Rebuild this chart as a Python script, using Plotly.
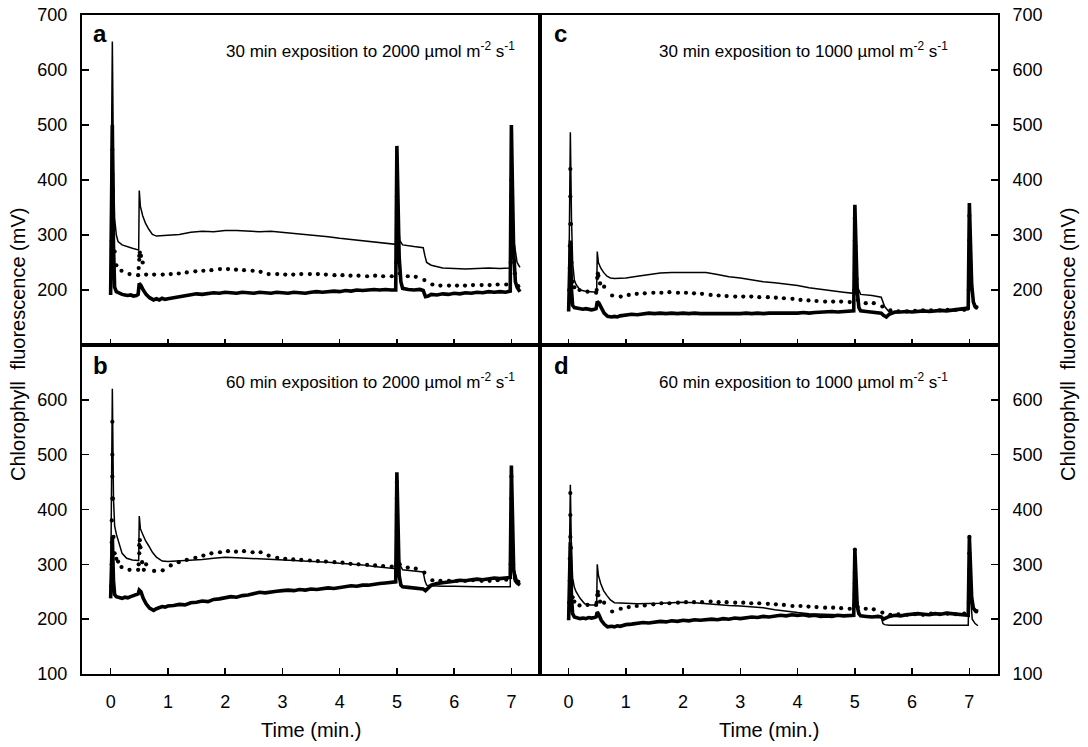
import plotly.graph_objects as go

W, H = 1088, 747

# ---------------- data ----------------
x_ticks = [0, 1, 2, 3, 4, 5, 6, 7]
y_ticks_top = [200, 300, 400, 500, 600, 700]
y_ticks_bottom = [100, 200, 300, 400, 500, 600]

time_thin = [0.00, 0.02, 0.03, 0.05, 0.07, 0.10, 0.13, 0.20, 0.28, 0.38, 0.48, 0.49, 0.50, 0.52, 0.56,
             0.61, 0.67, 0.73, 0.80, 0.90, 1.00, 1.20, 1.40, 1.60, 1.80, 2.00, 2.20, 2.40, 2.60, 2.80,
             3.00, 3.20, 3.40, 3.60, 3.80, 4.00, 4.20, 4.40, 4.60, 4.80, 4.98, 5.00, 5.02, 5.05, 5.10,
             5.30, 5.46, 5.49, 5.52, 5.60, 5.70, 5.80, 6.00, 6.20, 6.40, 6.60, 6.80, 6.98, 7.00, 7.02,
             7.05, 7.10, 7.15]

time_thick = [0.00, 0.01, 0.02, 0.03, 0.05, 0.07, 0.10,
              0.15, 0.20, 0.25, 0.30, 0.35, 0.40, 0.45,
              0.48, 0.50, 0.53, 0.57, 0.62, 0.68, 0.75,
              0.80, 0.85, 0.90, 0.95, 1.00,
              1.10, 1.20, 1.30, 1.40, 1.50, 1.60, 1.70, 1.80, 1.90, 2.00,
              2.10, 2.20, 2.30, 2.40, 2.50, 2.60, 2.70, 2.80, 2.90, 3.00,
              3.10, 3.20, 3.30, 3.40, 3.50, 3.60, 3.70, 3.80, 3.90, 4.00,
              4.10, 4.20, 4.30, 4.40, 4.50, 4.60, 4.70, 4.80, 4.90,
              4.98, 5.00, 5.02, 5.04, 5.07, 5.10,
              5.20, 5.30, 5.40, 5.46, 5.50, 5.55, 5.60,
              5.70, 5.80, 5.90, 6.00,
              6.10, 6.20, 6.30, 6.40, 6.50, 6.60, 6.70, 6.80, 6.90,
              6.98, 7.00, 7.02, 7.04, 7.07, 7.10, 7.15]

time_dot = [0.19, 0.33, 0.48, 0.62, 0.76, 0.91,
            1.05, 1.19, 1.33, 1.48, 1.62, 1.76, 1.91,
            2.05, 2.19, 2.33, 2.48, 2.62, 2.76, 2.91,
            3.05, 3.19, 3.33, 3.48, 3.62, 3.76, 3.91,
            4.05, 4.19, 4.33, 4.48, 4.62, 4.76, 4.91,
            5.05, 5.19, 5.33, 5.48, 5.62, 5.76, 5.91,
            6.05, 6.19, 6.33, 6.48, 6.62, 6.76, 6.91,
            7.12]

# ---- panel a : 30 min, 2000 ----
thin_a = [270, 500, 652, 420, 330, 300, 288, 282, 279, 276, 273, 272, 381, 352, 335,
          321, 310, 301, 298, 299, 300, 301, 305, 307, 306, 308, 308, 307, 306, 307,
          305, 303, 302, 299, 297, 294, 292, 290, 288, 285, 283, 420, 330, 290, 282,
          279, 277, 262, 250, 245, 242, 240, 239, 238, 239, 240, 239, 240, 460, 350,
          285, 250, 241]
thick_a = [191, 260, 420, 500, 280, 205, 197,
           194, 192, 191, 190, 191, 189, 190,
           192, 212, 208, 200, 192, 186, 182,
           184, 182, 185, 183, 184,
           186, 188, 190, 192, 193, 192, 194, 195, 194, 196,
           195, 194, 196, 195, 194, 196, 195, 194, 196, 195,
           194, 196, 195, 194, 196, 197, 196, 197, 198, 197,
           199, 198, 200, 199, 200, 201, 200, 201, 200,
           200, 462, 360, 260, 215, 203,
           201, 200, 201, 199, 188, 189, 192,
           191, 193, 192, 194,
           193, 195, 194, 196, 195, 197, 196, 197, 196,
           198, 500, 380, 270, 215, 205, 197]
dot_a = [235, 229, 227, 228, 228, 228,
         229, 230, 232, 234, 235, 236, 238,
         238, 237, 236, 235, 233, 229, 229,
         228, 228, 229, 229, 229, 228, 227,
         227, 226, 226, 225, 226, 225, 225,
         230, 225, 224, 218, 210, 208, 208,
         208, 208, 209, 209, 209, 210, 210,
         207]
spike_t_a = [0.02, 0.02, 0.02, 0.03, 0.03, 0.03, 0.03, 0.04, 0.05, 0.07, 0.10,
             0.49, 0.50, 0.50, 0.51, 0.53, 0.56,
             4.99, 5.00, 5.00, 5.00, 5.00, 5.01, 5.03,
             6.99, 7.00, 7.00, 7.00, 7.00, 7.00, 7.01, 7.03, 7.06]
spike_v_a = [230, 260, 290, 330, 370, 410, 455, 380, 310, 270, 245,
             240, 255, 262, 268, 262, 250,
             250, 280, 310, 340, 370, 320, 260,
             250, 280, 310, 340, 370, 400, 340, 280, 230]

# ---- panel b : 60 min, 2000 ----
thin_b = [245, 450, 620, 420, 370, 355, 345, 320, 311, 308, 307, 307, 388, 365, 355,
          343, 333, 322, 313, 306, 305, 306, 307, 309, 311, 313, 312, 311, 310, 309,
          309, 308, 307, 305, 304, 302, 301, 299, 296, 294, 292, 440, 340, 300, 290,
          288, 286, 270, 262, 261, 260, 260, 260, 259, 259, 259, 259, 259, 450, 350,
          290, 272, 268]
thick_b = [238, 280, 330, 350, 270, 245, 241,
           239, 238, 240, 239, 241, 243, 244,
           246, 253, 250, 238, 228, 220, 216,
           219, 221, 223, 222, 224,
           225, 227, 226, 230, 231, 233, 232, 236, 237, 239,
           241, 240, 243, 244, 246, 249, 248, 250, 251, 252,
           253, 252, 254, 253, 255, 254, 256, 257, 256, 258,
           259, 261, 260, 262, 262, 264, 265, 266, 267,
           268, 468, 360, 280, 262, 259,
           258, 257, 256, 255, 252, 258, 262,
           265, 266, 268, 269,
           271, 270, 272, 273, 272, 274, 275, 274, 276,
           276, 480, 370, 290, 270, 266, 262]
dot_b = [295, 290, 290, 300, 288, 289,
         298, 304, 308, 312, 316, 320, 322,
         324, 323, 324, 322, 322, 316, 312,
         310, 309, 308, 307, 306, 305, 304,
         303, 301, 300, 299, 298, 297, 296,
         300, 294, 292, 285, 271, 270, 270,
         270, 270, 271, 270, 270, 271, 272,
         268]
spike_t_b = [0.01, 0.02, 0.02, 0.02, 0.03, 0.03, 0.03, 0.03, 0.04, 0.05, 0.07, 0.10, 0.13,
             0.49, 0.50, 0.50, 0.51, 0.52, 0.55, 0.58,
             4.99, 5.00, 5.00, 5.00, 5.00, 5.00, 5.01, 5.03,
             6.99, 7.00, 7.00, 7.00, 7.00, 7.00, 7.01, 7.03, 7.06]
spike_v_b = [260, 300, 340, 380, 420, 460, 500, 560, 420, 350, 320, 310, 305,
             300, 320, 335, 344, 331, 304, 290,
             300, 330, 360, 390, 420, 450, 360, 300,
             300, 330, 360, 390, 420, 460, 370, 300, 275]

# ---- panel c : 30 min, 1000 ----
thin_c = [165, 350, 487, 330, 250, 218, 210, 200, 198, 197, 196, 196, 270, 250, 240,
          232, 225, 222, 221, 221, 222, 225, 228, 231, 232, 232, 233, 232, 228, 224,
          222, 218, 215, 213, 211, 208, 204, 201, 199, 196, 194, 320, 250, 205, 192,
          190, 187, 178, 170, 160, 158, 160, 161, 161, 162, 162, 163, 164, 330, 250,
          190, 172, 168]
thick_c = [161, 220, 270, 290, 200, 172, 168,
           167, 166, 165, 166, 165, 164, 165,
           166, 179, 176, 168, 158, 152, 151,
           152, 151, 153, 154, 155,
           156, 155, 157, 158, 157, 158, 157, 158, 157, 158,
           157, 158, 157, 157, 156, 157, 157, 156, 157, 157,
           158, 157, 158, 157, 158, 158, 158, 157, 158, 158,
           159, 158, 159, 160, 160, 161, 160, 161, 161,
           162, 355, 270, 200, 168, 162,
           161, 160, 159, 158, 154, 151, 156,
           160, 160, 161, 160,
           161, 162, 161, 162, 163, 162, 163, 164, 165,
           167, 358, 280, 210, 178, 170, 168]
dot_c = [200, 197, 195, 206, 190, 188,
         191, 193, 194, 195, 195, 196, 195,
         195, 194, 193, 191, 190, 189, 188,
         188, 188, 187, 187, 186, 185, 184,
         182, 181, 180, 179, 179, 179, 178,
         182, 176, 176, 170, 163, 161, 161,
         162, 163, 163, 163, 164, 164, 164,
         168]
spike_t_c = [0.01, 0.02, 0.02, 0.03, 0.03, 0.03, 0.04, 0.05, 0.07, 0.10,
             0.49, 0.50, 0.51, 0.52, 0.55,
             4.99, 5.00, 5.00, 5.00, 5.00, 5.01, 5.03,
             6.99, 7.00, 7.00, 7.00, 7.00, 7.01, 7.03]
spike_v_c = [200, 240, 280, 320, 370, 420, 320, 250, 215, 205,
             200, 222, 230, 226, 212,
             200, 230, 260, 290, 330, 280, 220,
             200, 230, 260, 290, 335, 280, 220]

# ---- panel d : 60 min, 1000 ----
thin_d = [200, 330, 445, 320, 275, 258, 250, 238, 228, 226, 226, 226, 300, 280, 265,
          252, 243, 235, 230, 229, 229, 228, 228, 229, 230, 231, 230, 228, 226, 225,
          224, 223, 221, 217, 214, 212, 210, 209, 208, 207, 207, 290, 240, 212, 206,
          205, 204, 192, 190, 189, 189, 189, 189, 188, 188, 188, 189, 189, 300, 240,
          200, 192, 188]
thick_d = [198, 260, 320, 340, 240, 210, 204,
           202, 201, 202, 201, 203, 202, 203,
           204, 213, 208, 198, 191, 186, 187,
           186, 188, 187, 189, 190,
           191, 192, 194, 193, 195, 196, 195, 197, 196, 198,
           197, 199, 198, 199, 200, 199, 201, 200, 202, 201,
           203, 204, 203, 205, 204, 206, 207, 206, 208, 207,
           208, 206, 207, 205, 206, 205, 207, 206, 207,
           207, 327, 270, 225, 210, 206,
           205, 204, 205, 204, 200, 202, 205,
           207, 206, 208, 209,
           210, 209, 208, 210, 209, 211, 210, 208, 207,
           207, 350, 290, 240, 220, 216, 214]
dot_d = [225, 226, 226, 230, 214, 219,
         222, 224, 225, 227, 229, 229, 230,
         231, 231, 231, 232, 231, 231, 230,
         230, 229, 229, 228, 227, 226, 224,
         224, 223, 222, 221, 221, 220, 219,
         222, 219, 218, 212, 208, 209, 208,
         209, 208, 210, 209, 210, 209, 210,
         214]
spike_t_d = [0.01, 0.02, 0.02, 0.03, 0.03, 0.03, 0.04, 0.05, 0.07, 0.10,
             0.49, 0.50, 0.51, 0.52, 0.55,
             4.99, 5.00, 5.00, 5.00, 5.00, 5.01, 5.03,
             6.99, 7.00, 7.00, 7.00, 7.00, 7.01, 7.03]
spike_v_d = [230, 270, 310, 350, 390, 430, 330, 270, 240, 232,
             230, 244, 250, 244, 232,
             225, 245, 265, 285, 327, 270, 230,
             230, 260, 290, 320, 350, 290, 240]

panel_letters = ["a", "b", "c", "d"]
panel_texts = ["30 min exposition to 2000 µmol m<sup>-2</sup> s<sup>-1</sup>",
               "60 min exposition to 2000 µmol m<sup>-2</sup> s<sup>-1</sup>",
               "30 min exposition to 1000 µmol m<sup>-2</sup> s<sup>-1</sup>",
               "60 min exposition to 1000 µmol m<sup>-2</sup> s<sup>-1</sup>"]
x_title = "Time (min.)"
y_title = "Chlorophyll\u00a0 fluorescence (mV)"

# ---------------- figure ----------------
FONT = "Liberation Sans, Arial, Helvetica, sans-serif"


def px(x):
    # window pixel -> paper fraction
    return x / W


def py(y):
    return 1 - y / H


XL = [px(82), px(540)]
XR = [px(540), px(998)]
YT = [py(345), py(15)]
YB = [py(674), py(345)]

panels = [
    ("a", "x", "y", thin_a, thick_a, dot_a, spike_t_a, spike_v_a),
    ("b", "x2", "y2", thin_b, thick_b, dot_b, spike_t_b, spike_v_b),
    ("c", "x3", "y3", thin_c, thick_c, dot_c, spike_t_c, spike_v_c),
    ("d", "x4", "y4", thin_d, thick_d, dot_d, spike_t_d, spike_v_d),
]

for p in panels:
    assert len(p[3]) == len(time_thin), (p[0], "thin", len(p[3]), len(time_thin))
    assert len(p[4]) == len(time_thick), (p[0], "thick", len(p[4]), len(time_thick))
    assert len(p[5]) == len(time_dot), (p[0], "dot", len(p[5]), len(time_dot))
    assert len(p[6]) == len(p[7]), (p[0], "spike")

fig = go.Figure()
for letter, xa, ya, thin, thick, dot, st, sv in panels:
    fig.add_trace(go.Scatter(x=time_thin, y=thin, mode="lines", xaxis=xa, yaxis=ya,
                             line=dict(color="black", width=1.5), showlegend=False))
    fig.add_trace(go.Scatter(x=time_dot + st, y=dot + sv, mode="markers", xaxis=xa, yaxis=ya,
                             marker=dict(color="black", size=4.2), showlegend=False))
    fig.add_trace(go.Scatter(x=time_thick, y=thick, mode="lines", xaxis=xa, yaxis=ya,
                             line=dict(color="black", width=3.6), showlegend=False))


def xcfg(domain, anchor, labels):
    cfg = dict(domain=domain, anchor=anchor, range=[-0.5, 7.5], tickvals=x_ticks,
               showticklabels=labels,
               ticks="inside", ticklen=6, tickwidth=1.5, tickcolor="black",
               showline=True, linewidth=2, linecolor="black", mirror=True,
               showgrid=False, zeroline=False, automargin=False)
    if labels:
        cfg.update(ticktext=[str(v) for v in x_ticks], ticklabelstandoff=10,
                   tickfont=dict(family=FONT, size=18, color="black"))
    return cfg


def ycfg(domain, anchor, side, ticks_list):
    return dict(domain=domain, anchor=anchor, range=[100, 700], tickvals=ticks_list,
                ticktext=[str(v) for v in ticks_list],
                side=side, ticks="inside", ticklen=7, tickwidth=1.5, tickcolor="black",
                showline=True, linewidth=2, linecolor="black", mirror=True,
                showgrid=False, zeroline=False, automargin=False,
                ticklabeloverflow="allow",
                tickfont=dict(family=FONT, size=18, color="black"), ticklabelstandoff=9)


fig.update_layout(
    width=W, height=H, margin=dict(l=0, r=0, t=0, b=0),
    paper_bgcolor="white", plot_bgcolor="white", showlegend=False,
    xaxis=xcfg(XL, "y", False), yaxis=ycfg(YT, "x", "left", y_ticks_top),
    xaxis2=xcfg(XL, "y2", True), yaxis2=ycfg(YB, "x2", "left", y_ticks_bottom),
    xaxis3=xcfg(XR, "y3", False), yaxis3=ycfg(YT, "x3", "right", y_ticks_top),
    xaxis4=xcfg(XR, "y4", True), yaxis4=ycfg(YB, "x4", "right", y_ticks_bottom),
)

ann = []
letter_pos = {"a": (91, 18), "b": (91, 350), "c": (552, 18), "d": (552, 350)}
text_pos = {"a": (224, 50), "b": (224, 381), "c": (657, 50), "d": (657, 381)}
for i, letter in enumerate(panel_letters):
    lx, ly = letter_pos[letter]
    ann.append(dict(x=px(lx), y=py(ly), xref="paper", yref="paper", text="<b>%s</b>" % letter,
                    showarrow=False, xanchor="left", yanchor="top",
                    font=dict(family=FONT, size=24, color="black")))
    tx, ty = text_pos[letter]
    ann.append(dict(x=px(tx), y=py(ty), xref="paper", yref="paper", text=panel_texts[i],
                    showarrow=False, xanchor="left", yanchor="middle",
                    font=dict(family=FONT, size=17, color="black")))

for cx in (311, 769):
    ann.append(dict(x=px(cx), y=py(730), xref="paper", yref="paper", text=x_title,
                    showarrow=False, xanchor="center", yanchor="middle",
                    font=dict(family=FONT, size=20, color="black")))
for cx in (18, 1068):
    ann.append(dict(x=px(cx), y=py(345), xref="paper", yref="paper", text=y_title,
                    showarrow=False, xanchor="center", yanchor="middle", textangle=-90,
                    font=dict(family=FONT, size=20, color="black")))

fig.update_layout(annotations=ann)
# remove the browser's default 8 px page margin so the figure fills the window exactly
fig.write_html("out.html",
               config={"displayModeBar": False, "staticPlot": True},
               post_script="document.body.style.margin='0';document.body.style.overflow='hidden';")
